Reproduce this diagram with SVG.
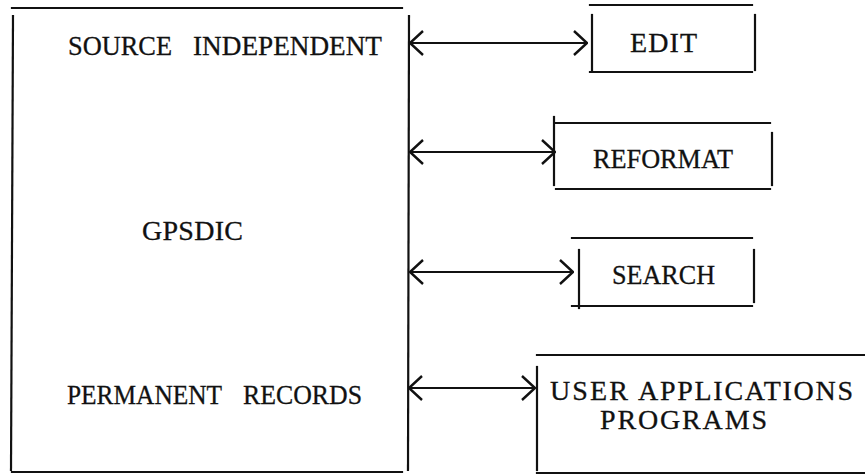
<svg xmlns="http://www.w3.org/2000/svg" width="865" height="475" viewBox="0 0 865 475">
<style>
.ln{stroke:#111;stroke-width:2.2;fill:none;stroke-linecap:square}
.cn{stroke:#111;stroke-width:2;fill:none}
.tx{font-family:"Liberation Serif","Times New Roman",serif;font-size:28px;fill:#111;stroke:#111;stroke-width:0.3}
</style>
<defs>
<marker id="ah" markerUnits="userSpaceOnUse" viewBox="0 0 16 26" refX="15" refY="13" markerWidth="16" markerHeight="26" orient="auto-start-reverse">
<path d="M2,1 L15,13 L2,25" fill="none" stroke="#111" stroke-width="2.4"/>
</marker>
</defs>
<rect width="865" height="475" fill="#fff"/>
<g id="gpsdic">
<line class="ln" x1="12" y1="8" x2="402" y2="8"/>
<line class="ln" x1="13" y1="16" x2="11" y2="470"/>
<line class="ln" x1="409" y1="16" x2="408" y2="470"/>
<line class="ln" x1="12" y1="472" x2="402" y2="472"/>
<text class="tx" x="68" y="55" textLength="104" lengthAdjust="spacingAndGlyphs">SOURCE</text>
<text class="tx" x="193" y="55" textLength="189" lengthAdjust="spacingAndGlyphs">INDEPENDENT</text>
<text class="tx" x="142" y="240" textLength="101" lengthAdjust="spacing">GPSDIC</text>
<text class="tx" x="67" y="404" textLength="155" lengthAdjust="spacingAndGlyphs">PERMANENT</text>
<text class="tx" x="243" y="404" textLength="119" lengthAdjust="spacingAndGlyphs">RECORDS</text>
</g>
<g id="edit">
<line class="ln" x1="590" y1="5" x2="752" y2="5"/>
<line class="ln" x1="592" y1="15" x2="592" y2="70"/>
<line class="ln" x1="755" y1="15" x2="755" y2="70"/>
<line class="ln" x1="590" y1="72" x2="752" y2="72"/>
<text class="tx" x="630" y="52" textLength="67" lengthAdjust="spacing">EDIT</text>
</g>
<g id="reformat">
<line class="ln" x1="555" y1="123" x2="770" y2="123"/>
<line class="ln" x1="554" y1="117" x2="554" y2="185"/>
<line class="ln" x1="772" y1="133" x2="772" y2="185"/>
<line class="ln" x1="556" y1="189" x2="770" y2="189"/>
<text class="tx" x="593" y="168" textLength="140" lengthAdjust="spacingAndGlyphs">REFORMAT</text>
</g>
<g id="search">
<line class="ln" x1="572" y1="238" x2="752" y2="238"/>
<line class="ln" x1="579" y1="250" x2="579" y2="308"/>
<line class="ln" x1="754" y1="250" x2="754" y2="302"/>
<line class="ln" x1="572" y1="306" x2="752" y2="306"/>
<text class="tx" x="612" y="284" textLength="103" lengthAdjust="spacingAndGlyphs">SEARCH</text>
</g>
<g id="user-programs">
<line class="ln" x1="537" y1="355" x2="865" y2="355"/>
<line class="ln" x1="537" y1="367" x2="537" y2="470"/>
<line class="ln" x1="537" y1="473" x2="865" y2="473"/>
<text class="tx" x="550" y="400" textLength="78" lengthAdjust="spacing">USER</text>
<text class="tx" x="638" y="400" textLength="215" lengthAdjust="spacing">APPLICATIONS</text>
<text class="tx" x="600" y="429" textLength="167" lengthAdjust="spacing">PROGRAMS</text>
</g>
<g id="connectors">
<path class="cn" d="M410,43 L587,43" marker-start="url(#ah)" marker-end="url(#ah)"/>
<path class="cn" d="M410,152 L555,152" marker-start="url(#ah)" marker-end="url(#ah)"/>
<path class="cn" d="M410,272 L573,272" marker-start="url(#ah)" marker-end="url(#ah)"/>
<path class="cn" d="M409,388 L535,388" marker-start="url(#ah)" marker-end="url(#ah)"/>
</g>
</svg>
